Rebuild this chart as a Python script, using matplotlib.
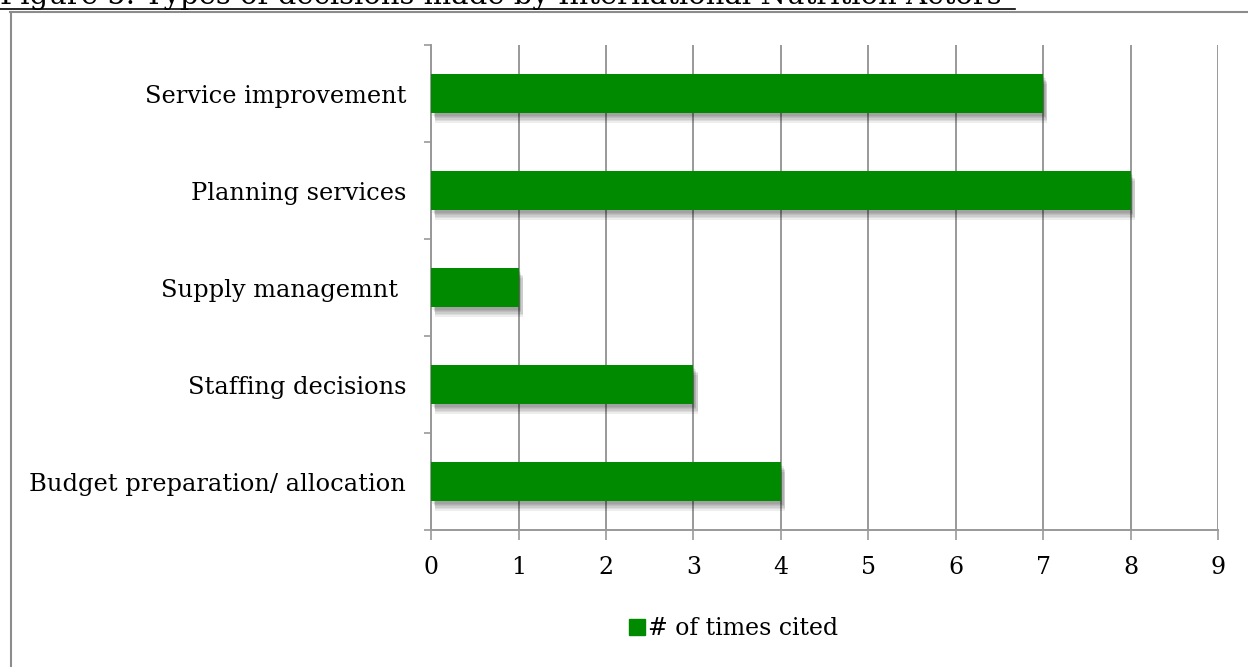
import matplotlib
matplotlib.use("Agg")
import matplotlib.pyplot as plt
import matplotlib.patheffects as pe
from matplotlib.lines import Line2D

categories = ["Service improvement", "Planning services", "Supply managemnt ",
              "Staffing decisions", "Budget preparation/ allocation"]
times_cited = [7, 8, 1, 3, 4]
x_ticks = [0, 1, 2, 3, 4, 5, 6, 7, 8, 9]

green = "#008a00"
grey = "#999999"

plt.rcParams["font.family"] = ["DejaVu Serif"]

fig = plt.figure(figsize=(12.48, 6.67), dpi=100)
ax = fig.add_axes([0.3454, 0.2054, 0.6306, 0.7271])

ypos = list(range(len(categories)))
bars = ax.barh(ypos, times_cited, height=0.4, color=green, zorder=3)
# soft drop shadow under each bar
soft = [pe.SimplePatchShadow(offset=(dx, dy), shadow_rgbFace="black", alpha=0.07)
        for dx, dy in [(1, -2), (2, -3), (2, -4), (3, -5), (3, -6), (3, -7)]]
for b in bars:
    b.set_path_effects(soft + [pe.Normal()])

ax.set_xlim(0, 9)
ax.set_ylim(len(categories) - 0.5, -0.5)
ax.set_xticks(x_ticks)
ax.set_xticklabels([str(t) for t in x_ticks], fontsize=17)
ax.set_yticks(ypos)
ax.set_yticklabels(categories, fontsize=17.4)
ax.set_yticks([i - 0.5 for i in range(len(categories) + 1)], minor=True)

ax.tick_params(axis="y", which="major", length=0, pad=18)
ax.tick_params(axis="y", which="minor", length=5, width=1.2, color=grey, direction="out")
ax.tick_params(axis="x", length=7, width=1.2, color=grey, pad=12)

ax.grid(axis="x", color=grey, linewidth=1.4, zorder=0)
for side in ["top", "right"]:
    ax.spines[side].set_visible(False)
for side in ["left", "bottom"]:
    ax.spines[side].set_color(grey)
    ax.spines[side].set_linewidth(1.4)

handle = Line2D([], [], marker="s", linestyle="none", color=green, markersize=11)
fig.legend([handle], ["# of times cited"], loc="center", bbox_to_anchor=(0.587, 0.058),
           frameon=False, fontsize=17, handlelength=0.8, handletextpad=0.05, borderaxespad=0)

# caption above the chart frame, partly cut off at the top edge
fig.text(0.0, 1 - 4 / 667, "Figure 5. Types of decisions made by International Nutrition Actors",
         fontsize=21, ha="left", va="baseline")
fig.add_artist(Line2D([0, 1015 / 1248], [1 - 9 / 667, 1 - 9 / 667], color="black", linewidth=1.2))

# chart frame
fig.add_artist(Line2D([10 / 1248, 1], [1 - 12 / 667, 1 - 12 / 667], color="#8c8c8c", linewidth=1.5))
fig.add_artist(Line2D([11 / 1248, 11 / 1248], [1 - 12 / 667, 0], color="#8c8c8c", linewidth=1.5))

fig.savefig("out.png", dpi=100)
